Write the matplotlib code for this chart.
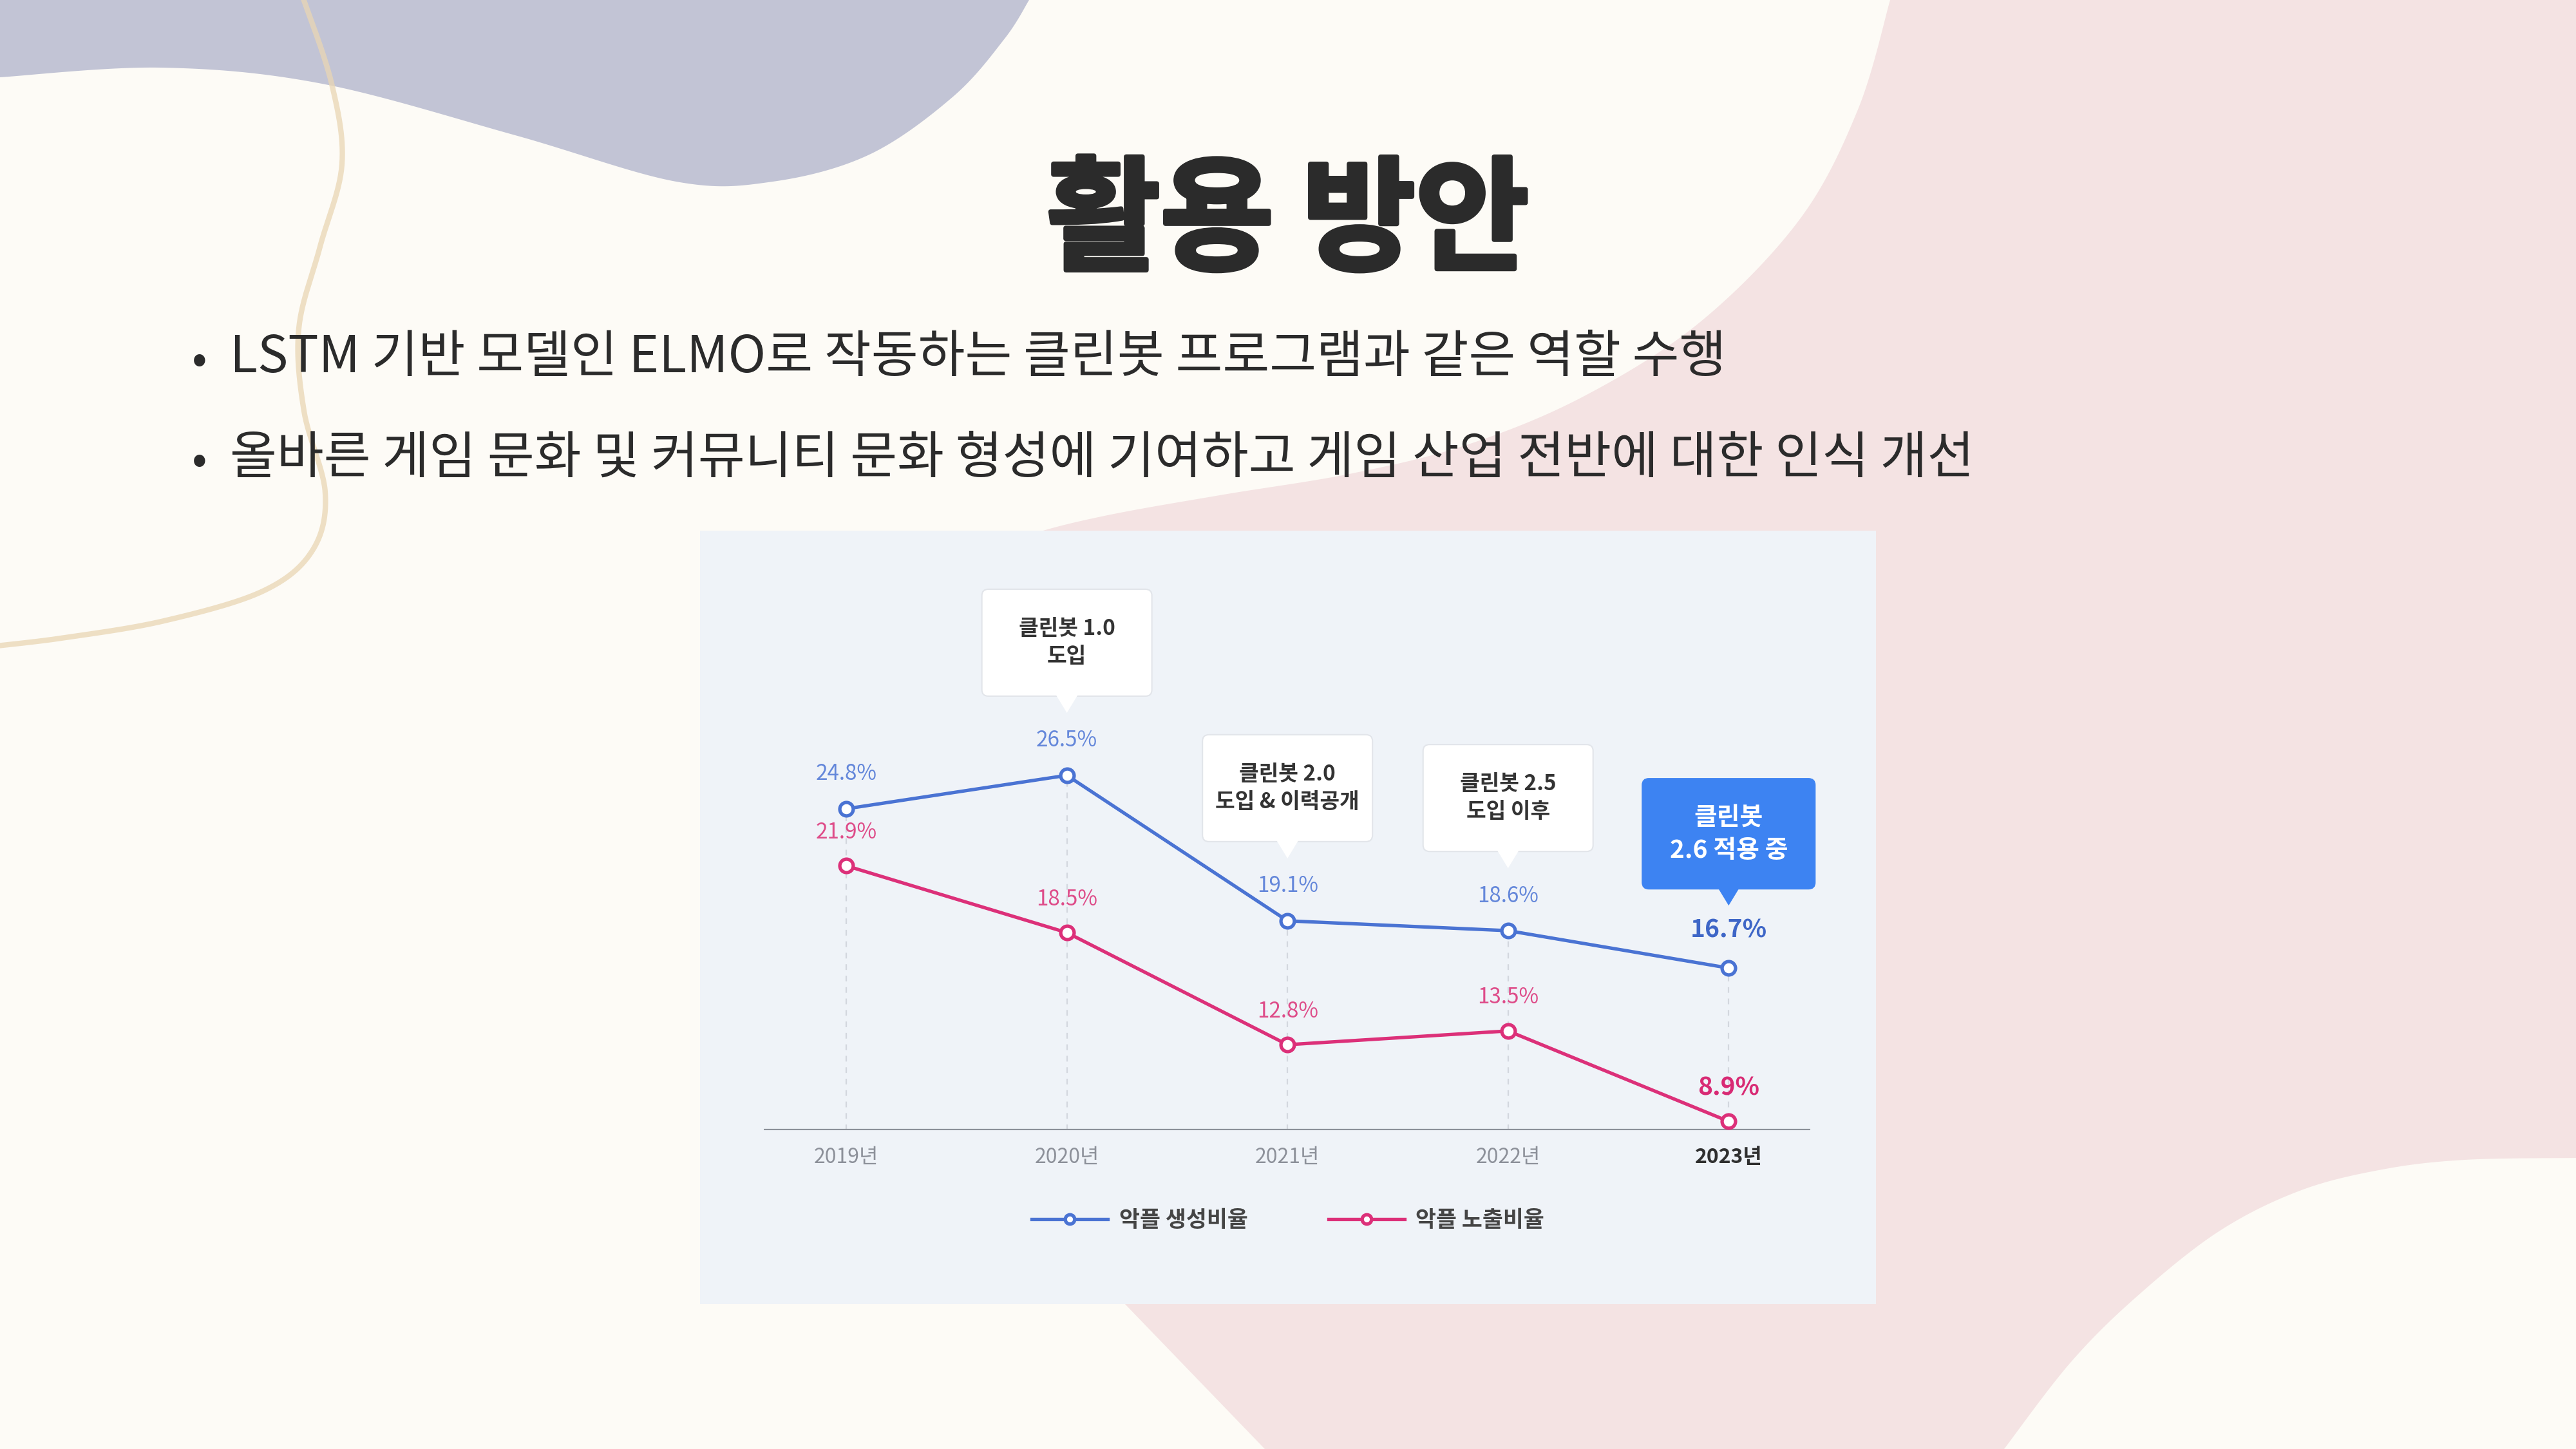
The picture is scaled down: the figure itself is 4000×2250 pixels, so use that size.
import numpy as np
import matplotlib
matplotlib.use("Agg")
import matplotlib.pyplot as plt
from matplotlib.patches import Polygon, FancyBboxPatch, Rectangle
import matplotlib.patheffects as pe

plt.rcParams['font.family'] = ['Noto Sans CJK KR', 'DejaVu Sans']

# ---------------- data ----------------
years = ['2019년', '2020년', '2021년', '2022년', '2023년']
gen_rate = [24.8, 26.5, 19.1, 18.6, 16.7]      # 악플 생성비율
exp_rate = [21.9, 18.5, 12.8, 13.5, 8.9]       # 악플 노출비율
series_names = ['악플 생성비율', '악플 노출비율']
callouts = ['클린봇 1.0\n도입', '클린봇 2.0\n도입 & 이력공개', '클린봇 2.5\n도입 이후', '클린봇\n2.6 적용 중']
callout_pos = [1, 2, 3, 4]
title = '활용 방안'
bullets = ['LSTM 기반 모델인 ELMO로 작동하는 클린봇 프로그램과 같은 역할 수행',
           '올바른 게임 문화 및 커뮤니티 문화 형성에 기여하고 게임 산업 전반에 대한 인식 개선']

W, H = 4000, 2250
fig = plt.figure(figsize=(40, 22.5), dpi=100)
fig.patch.set_facecolor('#FDFBF6')

# ---------------- background decoration ----------------
bg = fig.add_axes([0, 0, 1, 1], zorder=0)
bg.set_xlim(0, W); bg.set_ylim(H, 0); bg.axis('off')


def catmull(points, n=30):
    P = np.asarray(points, float)
    P = np.vstack([P[0], P, P[-1]])
    out = []
    for i in range(1, len(P) - 2):
        p0, p1, p2, p3 = P[i - 1], P[i], P[i + 1], P[i + 2]
        t = np.linspace(0, 1, n, endpoint=False)[:, None]
        pts = 0.5 * ((2 * p1) + (-p0 + p2) * t + (2 * p0 - 5 * p1 + 4 * p2 - p3) * t ** 2
                     + (-p0 + 3 * p1 - 3 * p2 + p3) * t ** 3)
        out.append(pts)
    out.append(P[-2][None, :])
    return np.vstack(out)

# blue-gray blob (top-left)
blob1 = catmull([(0, 120), (250, 105), (500, 130), (800, 210), (1050, 282), (1200, 282),
                 (1350, 240), (1480, 150), (1560, 60), (1598, 0)])
blob1 = np.vstack([[(0, 0)], blob1, [(1598, 0)]])
bg.add_patch(Polygon(blob1, closed=True, fc='#C2C4D5', ec='none', zorder=1))

# pink blob (right)
edge = catmull([(2935, 0), (2885, 170), (2795, 340), (2640, 500), (2460, 615), (2280, 690),
                (2100, 735), (1900, 768), (1720, 800), (1600, 830), (1500, 870)])
hidden = np.array([(1500, 1200), (1700, 1900), (1747, 2025), (1964, 2250)])
cut = catmull([(3112, 2250), (3214, 2117), (3316, 2015), (3444, 1913), (3571, 1849),
               (3699, 1816), (3827, 1801), (4000, 1798)])
pink = np.vstack([edge, hidden, cut, [(4000, 0)]])
bg.add_patch(Polygon(pink, closed=True, fc='#F4E3E3', ec='none', zorder=1))

# beige curve
curve = catmull([(470, -5), (515, 130), (531, 255), (497, 383), (464, 510), (472, 638),
                 (505, 765), (485, 855), (408, 918), (255, 964), (102, 990), (-5, 1003)])
bg.plot(curve[:, 0], curve[:, 1], color='#E9D6B4', lw=6, alpha=0.75, solid_capstyle='round', zorder=2)

# chart panel
bg.add_patch(Rectangle((1087, 824), 1826, 1201, fc='#EFF3F8', ec='none', zorder=3))

# ---------------- title & bullets ----------------
fig.text(0.5, 1 - 348 / H, title, ha='center', va='center', fontsize=138,
         fontweight='heavy', color='#2B2B2B',
         path_effects=[pe.withStroke(linewidth=5, foreground='#2B2B2B')])
for txt, yy in zip(bullets, [556, 712]):
    fig.text(298 / W, 1 - (yy + 4) / H, '•', ha='left', va='center', fontsize=50, color='#2B2B2B')
    fig.text(357 / W, 1 - yy / H, txt, ha='left', va='center', fontsize=57, color='#2B2B2B')

# ---------------- chart ----------------
ybot, ytop = 8.45, 30.2
ax = fig.add_axes([1186 / W, 1 - 1755 / H, (2811 - 1186) / W, (1755 - 1091) / H], zorder=2)
ax.set_facecolor('none')
x = np.arange(len(years))
ax.set_xlim(-0.374, 4.37)
ax.set_ylim(ybot, ytop)
for s in ax.spines.values():
    s.set_visible(False)
ax.set_yticks([])

blue = '#4A73D3'
red = '#DC3079'
ax.vlines(x, ybot, gen_rate, colors='#D3D7DE', linestyles=(0, (4, 4)), lw=1.6, zorder=1)
ax.axhline(ybot, color='#8B9098', lw=3.8, zorder=2)
l1, = ax.plot(x, gen_rate, color=blue, lw=3.8, marker='o', ms=15, mfc='white', mec=blue,
              mew=3.8, zorder=4, clip_on=False)
l2, = ax.plot(x, exp_rate, color=red, lw=3.8, marker='o', ms=15, mfc='white', mec=red,
              mew=3.8, zorder=4, clip_on=False)

n = len(years)
for i, v in enumerate(gen_rate):
    last = i == n - 1
    ax.annotate(f'{v}%', (i, v), xytext=(0, 59 if last else 54), textcoords='offset pixels',
                ha='center', va='center', fontsize=28 if last else 24,
                fontweight='bold' if last else 'normal',
                color='#3E66C7' if last else '#6487DA', zorder=5)
for i, v in enumerate(exp_rate):
    last = i == n - 1
    ax.annotate(f'{v}%', (i, v), xytext=(0, 52), textcoords='offset pixels',
                ha='center', va='center', fontsize=28 if last else 24,
                fontweight='bold' if last else 'normal',
                color='#D82A74' if last else '#DE4C89', zorder=5)

ax.set_xticks(x)
ax.set_xticklabels(years)
ax.tick_params(axis='x', length=0, pad=19, labelsize=23, labelcolor='#8C9099')
tl = ax.get_xticklabels()
tl[-1].set_color('#2F2F2F')
tl[-1].set_fontweight('bold')

leg = fig.legend(handles=[l1, l2], labels=series_names, loc='center',
                 bbox_to_anchor=(0.5, 1 - 1895 / H), ncol=2, frameon=False,
                 handlelength=3.4, columnspacing=3.6, handletextpad=0.5, fontsize=25,
                 markerscale=0.7)
for t in leg.get_texts():
    t.set_color('#454545')
    t.set_fontweight('bold')

# ---------------- callouts ----------------
ov = fig.add_axes([0, 0, 1, 1], zorder=3)
ov.set_xlim(0, W); ov.set_ylim(H, 0); ov.axis('off'); ov.set_facecolor('none')

for txt, pos in zip(callouts, callout_pos):
    dx, dy = ax.transData.transform((pos, gen_rate[pos]))
    cx, cy = dx, H - dy
    tip = cy - 97
    hl = pos == n - 1
    bw, bh = (268, 171) if hl else (264, 166)
    yb = tip - 26
    fc = '#3D83F2' if hl else 'white'
    ec = '#3D83F2' if hl else '#E2E5EA'
    ov.add_patch(FancyBboxPatch((cx - bw / 2, yb - bh), bw, bh,
                                boxstyle='round,pad=0,rounding_size=10',
                                fc=fc, ec=ec, lw=1.5, zorder=2))
    ov.add_patch(Polygon([(cx - 17, yb - 2), (cx + 17, yb - 2), (cx, tip)], closed=True,
                         fc=fc, ec='none', zorder=3))
    ov.text(cx, yb - bh / 2, txt, ha='center', va='center', linespacing=1.4,
            fontsize=28 if hl else 24, fontweight='bold',
            color='white' if hl else '#333333', zorder=4)

fig.savefig('out.png', dpi=100, facecolor=fig.get_facecolor())
